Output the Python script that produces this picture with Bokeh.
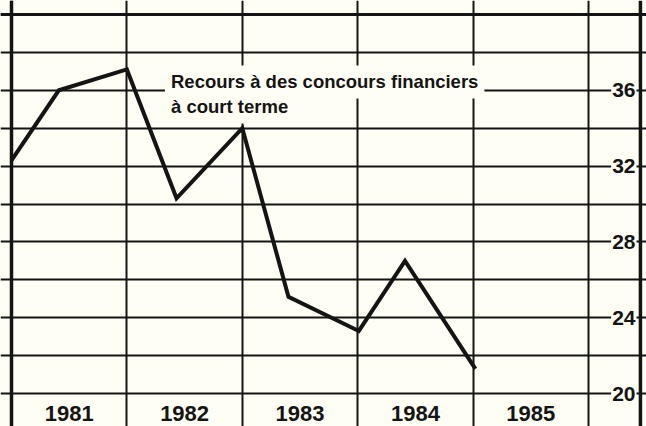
from bokeh.plotting import figure
from bokeh.models import FixedTicker, Span, Label, Range1d
from bokeh.core.properties import value
from bokeh.embed import file_html
from bokeh.resources import INLINE

# ---- data ----
x_time = [1981.0, 1981.41, 1982.0, 1982.43, 1983.0, 1983.4, 1984.01, 1984.41, 1985.02]
recours = [32.3, 36.0, 37.1, 30.3, 34.0, 25.1, 23.3, 27.0, 21.3]
years = ["1981", "1982", "1983", "1984", "1985"]
year_starts = [1981, 1982, 1983, 1984, 1985, 1986]
y_grid = [20, 22, 24, 26, 28, 30, 32, 34, 36, 38, 40]
y_labels = [20, 24, 28, 32, 36]
title_lines = ["Recours à des concours financiers", "à court terme"]

BG = "#fffef4"
INK = "#141414"
FONT = "Liberation Sans"

p = figure(width=646, height=426,
           x_range=Range1d(1980.9047, 1986.5026), y_range=Range1d(18.259, 40.739),
           x_axis_location=None, y_axis_location=None,
           toolbar_location=None, output_backend="svg", min_border=0,
           background_fill_color=BG, border_fill_color=BG, outline_line_color=None)

p.xgrid.ticker = FixedTicker(ticks=year_starts)
p.ygrid.ticker = FixedTicker(ticks=y_grid)
p.grid.grid_line_color = INK
p.grid.grid_line_width = 2
p.grid.grid_line_alpha = 1

# data line
p.line(x_time, recours, line_width=4, line_color=INK, line_join="miter", level="overlay")

# annotation text
lab1 = Label(x=1982.33, y=36.44, text=title_lines[0], text_font=FONT, text_font_size="18.5px",
             text_font_style="bold", text_color=INK, text_baseline="middle",
             background_fill_color=BG, padding=6)
lab2 = Label(x=1982.33, y=35.12, text=title_lines[1], text_font=FONT, text_font_size="18.5px",
             text_font_style="bold", text_color=INK, text_baseline="middle",
             background_fill_color=BG, padding=6)
p.add_layout(lab1)
p.add_layout(lab2)

# y value labels in the right column
p.text(x=[1986.416] * len(y_labels), y=y_labels, text=[str(v) for v in y_labels],
       text_font=value(FONT), text_font_size="21px", text_font_style="bold",
       text_color=INK, text_align="right", text_baseline="middle",
       background_fill_color=BG, padding=1)

# year labels
p.text(x=[s + 0.5 for s in year_starts[:-1]], y=[18.95] * len(years), text=years,
       text_font=value(FONT), text_font_size="22px", text_font_style="bold",
       text_color=INK, text_align="center", text_baseline="middle")

# borders
p.add_layout(Span(location=1981, dimension="height", line_color=INK, line_width=3.5))
p.add_layout(Span(location=1986.45, dimension="height", line_color=INK, line_width=3.5))
p.add_layout(Span(location=40, dimension="width", line_color=INK, line_width=3))

open("out.html", "w").write(file_html(p, INLINE))
